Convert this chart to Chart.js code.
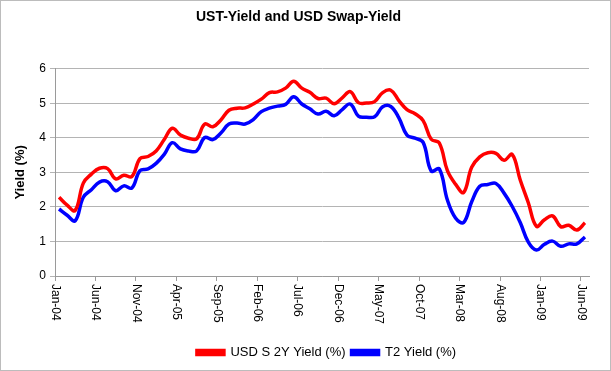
<!DOCTYPE html>
<html>
<head>
<meta charset="utf-8">
<script src="https://cdn.jsdelivr.net/npm/chart.js@4/dist/chart.umd.min.js"></script>
<style>
  html, body { margin: 0; padding: 0; background: #ffffff; }
  #wrap { width: 611px; height: 371px; position: relative; }
</style>
</head>
<body>
<div id="wrap"><canvas id="c" width="611" height="371"></canvas></div>
<script>
// ---- data ----
const months = [
  'Jan-04','Feb-04','Mar-04','Apr-04','May-04','Jun-04','Jul-04','Aug-04','Sep-04','Oct-04','Nov-04','Dec-04',
  'Jan-05','Feb-05','Mar-05','Apr-05','May-05','Jun-05','Jul-05','Aug-05','Sep-05','Oct-05','Nov-05','Dec-05',
  'Jan-06','Feb-06','Mar-06','Apr-06','May-06','Jun-06','Jul-06','Aug-06','Sep-06','Oct-06','Nov-06','Dec-06',
  'Jan-07','Feb-07','Mar-07','Apr-07','May-07','Jun-07','Jul-07','Aug-07','Sep-07','Oct-07','Nov-07','Dec-07',
  'Jan-08','Feb-08','Mar-08','Apr-08','May-08','Jun-08','Jul-08','Aug-08','Sep-08','Oct-08','Nov-08','Dec-08',
  'Jan-09','Feb-09','Mar-09','Apr-09','May-09','Jun-09'
];
const swapYield = [
  2.28, 2.05, 1.90, 2.69, 2.95, 3.12, 3.11, 2.81, 2.92, 2.88, 3.40, 3.46,
  3.62, 3.95, 4.28, 4.08, 3.99, 3.97, 4.40, 4.32, 4.52, 4.80, 4.86, 4.87,
  4.98, 5.12, 5.31, 5.33, 5.44, 5.64, 5.44, 5.32, 5.14, 5.15, 4.99, 5.16,
  5.34, 5.02, 5.01, 5.05, 5.31, 5.38, 5.08, 4.82, 4.70, 4.50, 3.96, 3.85,
  3.05, 2.66, 2.42, 3.15, 3.45, 3.57, 3.55, 3.35, 3.52, 2.78, 2.12, 1.44,
  1.63, 1.74, 1.43, 1.47, 1.33, 1.54
];
const t2Yield = [
  1.94, 1.76, 1.60, 2.28, 2.50, 2.72, 2.73, 2.47, 2.61, 2.55, 3.05, 3.10,
  3.26, 3.52, 3.86, 3.68, 3.62, 3.62, 4.01, 3.95, 4.14, 4.40, 4.43, 4.40,
  4.53, 4.76, 4.86, 4.92, 4.97, 5.19, 4.98, 4.84, 4.69, 4.77, 4.64, 4.82,
  4.98, 4.63, 4.60, 4.61, 4.90, 4.91, 4.58, 4.08, 3.99, 3.87, 3.04, 3.10,
  2.20, 1.68, 1.55, 2.15, 2.60, 2.65, 2.68, 2.40, 2.02, 1.55, 0.98, 0.75,
  0.92, 1.01, 0.86, 0.93, 0.93, 1.13
];
const xTickLabels = ['Jan-04','Jun-04','Nov-04','Apr-05','Sep-05','Feb-06','Jul-06','Dec-06','May-07','Oct-07','Mar-08','Aug-08','Jan-09','Jun-09'];
const yTicks = [0, 1, 2, 3, 4, 5, 6];
const seriesNames = ['USD S 2Y Yield (%)', 'T2 Yield (%)'];

// ---- chart ----
const FONT = '"Liberation Sans", Arial, sans-serif';
const midMonth = 0.5;
const toPoints = arr => arr.map((v, i) => ({ x: i + midMonth, y: v }));

const frame = {
  id: 'frame',
  beforeDraw(chart) {
    const ctx = chart.ctx;
    ctx.save();
    ctx.fillStyle = '#ffffff';
    ctx.fillRect(0, 0, chart.width, chart.height);
    ctx.strokeStyle = '#bcbcbc';
    ctx.lineWidth = 1;
    ctx.strokeRect(0.5, 0.5, chart.width - 1, chart.height - 1);
    ctx.restore();
  },
  afterLayout(chart) {
    // legend sits a little right of centre in the reference
    const dx = 28;
    chart.legend.left += dx;
    chart.legend.right += dx;
    chart.legend.top += 2;
    chart.legend.bottom += 2;
  },
  afterDraw(chart) {
    const xs = chart.scales.x;
    const ctx = chart.ctx;
    ctx.save();
    ctx.font = '12px ' + FONT;
    ctx.fillStyle = '#000000';
    ctx.textAlign = 'left';
    ctx.textBaseline = 'middle';
    xTickLabels.forEach(l => {
      const px = xs.getPixelForValue(months.indexOf(l));
      ctx.save();
      ctx.translate(px, xs.top + 8);
      ctx.rotate(Math.PI / 2);
      ctx.fillText(l, 0, 0);
      ctx.restore();
    });
    ctx.restore();
  }
};

new Chart(document.getElementById('c'), {
  type: 'line',
  data: {
    datasets: [
      { label: seriesNames[0], data: toPoints(swapYield), borderColor: '#ff0000', backgroundColor: '#ff0000',
        borderWidth: 3.5, pointRadius: 0, tension: 0.4, fill: false },
      { label: seriesNames[1], data: toPoints(t2Yield), borderColor: '#0000ff', backgroundColor: '#0000ff',
        borderWidth: 3.5, pointRadius: 0, tension: 0.4, fill: false }
    ]
  },
  options: {
    responsive: false,
    animation: false,
    events: [],
    layout: { padding: { left: 8, right: 22, top: 0, bottom: 4 } },
    plugins: {
      title: {
        display: true,
        text: 'UST-Yield and USD Swap-Yield',
        color: '#000000',
        font: { family: FONT, size: 14, weight: 'bold' },
        padding: { top: 9, bottom: 43 }
      },
      legend: {
        position: 'bottom',
        labels: {
          color: '#000000',
          font: { family: FONT, size: 13 },
          boxWidth: 27,
          boxHeight: 4,
          padding: 6
        }
      },
      tooltip: { enabled: false }
    },
    scales: {
      x: {
        type: 'linear',
        min: 0,
        max: 66,
        afterBuildTicks: s => { s.ticks = xTickLabels.map(l => ({ value: months.indexOf(l) })); },
        afterFit: s => { s.height = 62; },
        ticks: { display: false },
        grid: { drawOnChartArea: false, drawTicks: true, tickLength: 5, color: '#9a9a9a' },
        border: { display: true, color: '#9a9a9a', width: 1 }
      },
      y: {
        min: 0,
        max: 6,
        afterBuildTicks: s => { s.ticks = yTicks.map(v => ({ value: v })); },
        afterFit: s => { s.width = 47; },
        ticks: { color: '#000000', font: { family: FONT, size: 12 }, padding: 4 },
        grid: { color: '#b4b4b4', tickLength: 5, drawTicks: true },
        border: { display: true, color: '#9a9a9a', width: 1 },
        title: { display: true, text: 'Yield (%)', color: '#000000', font: { family: FONT, size: 13, weight: 'bold' }, padding: { top: 5, bottom: 0 } }
      }
    }
  },
  plugins: [frame]
});
</script>
</body>
</html>
